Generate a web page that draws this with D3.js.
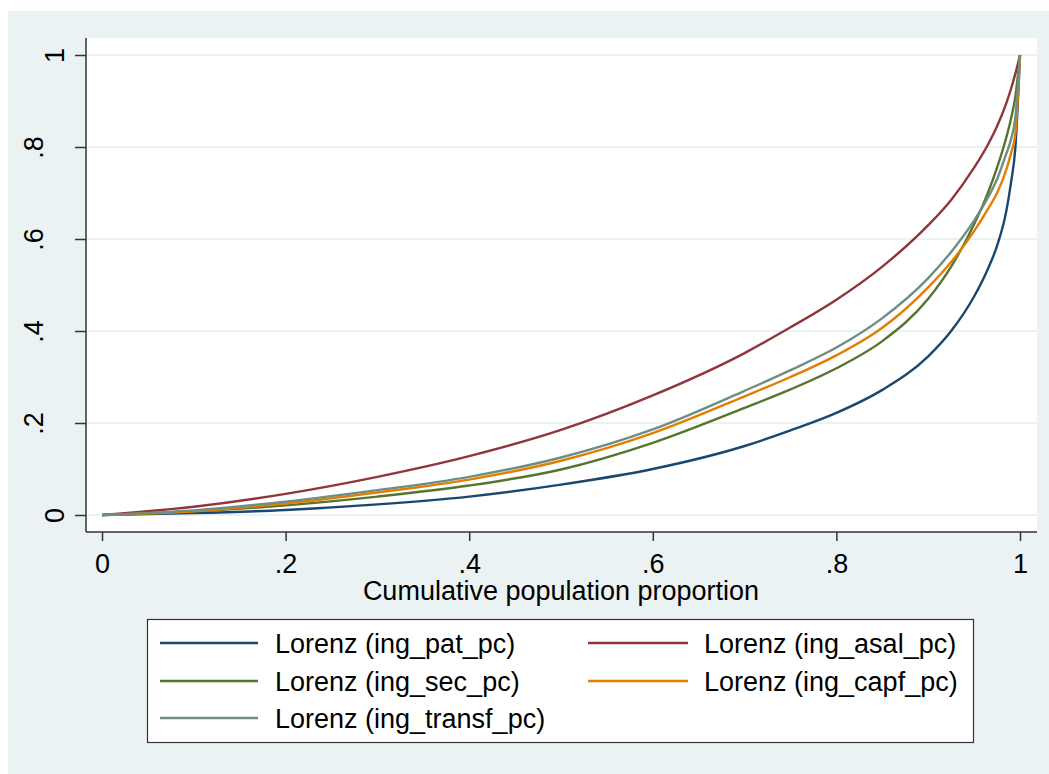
<!DOCTYPE html>
<html>
<head>
<meta charset="utf-8">
<script src="https://cdn.jsdelivr.net/npm/d3@7"></script>
<style>
  html, body { margin: 0; padding: 0; background: #ffffff; }
  svg { display: block; font-family: "Liberation Sans", Arial, sans-serif; }
</style>
</head>
<body>
<svg id="chart" width="1049" height="774"></svg>
<script>
// ---- data ----
const popShare  = [0, 0.1, 0.2, 0.3, 0.4, 0.5, 0.6, 0.7, 0.75, 0.8, 0.85, 0.9, 0.925, 0.95, 0.965, 0.975, 0.985, 0.99, 0.995, 1];
const ingPat    = [0, 0.004, 0.011, 0.023, 0.040, 0.066, 0.100, 0.150, 0.184, 0.222, 0.272, 0.345, 0.400, 0.475, 0.535, 0.585, 0.660, 0.720, 0.800, 1];
const ingAsal   = [0, 0.018, 0.046, 0.083, 0.128, 0.185, 0.260, 0.352, 0.408, 0.468, 0.540, 0.630, 0.685, 0.755, 0.805, 0.845, 0.895, 0.925, 0.960, 1];
const ingSec    = [0, 0.008, 0.021, 0.040, 0.064, 0.099, 0.157, 0.233, 0.273, 0.319, 0.378, 0.470, 0.540, 0.632, 0.700, 0.755, 0.820, 0.860, 0.910, 1];
const ingCapf   = [0, 0.008, 0.025, 0.049, 0.077, 0.118, 0.178, 0.258, 0.300, 0.347, 0.407, 0.495, 0.550, 0.617, 0.665, 0.700, 0.750, 0.785, 0.830, 1];
const ingTransf = [0, 0.010, 0.029, 0.054, 0.083, 0.125, 0.186, 0.270, 0.315, 0.364, 0.428, 0.515, 0.572, 0.640, 0.690, 0.730, 0.785, 0.815, 0.865, 1];

const seriesNames  = ["Lorenz (ing_pat_pc)", "Lorenz (ing_asal_pc)", "Lorenz (ing_sec_pc)", "Lorenz (ing_capf_pc)", "Lorenz (ing_transf_pc)"];
const seriesValues = [ingPat, ingAsal, ingSec, ingCapf, ingTransf];
const seriesColors = ["#1a476f", "#90353b", "#55752f", "#e37e00", "#6e8e84"];
const xTicks = [0, 0.2, 0.4, 0.6, 0.8, 1];
const yTicks = [0, 0.2, 0.4, 0.6, 0.8, 1];
const xTitle = "Cumulative population proportion";

// ---- layout ----
const svg = d3.select("#chart");
const FONT = 27;
const plot = { left: 86, top: 38, right: 1037, bottom: 532 };

const x = d3.scaleLinear().domain([0, 1]).range([102, 1020]);
const y = d3.scaleLinear().domain([0, 1]).range([515, 55]);
const fmt = d => (d === 0 ? "0" : d === 1 ? "1" : d3.format(".1f")(d).replace(/^0/, ""));

// outer background
svg.append("rect").attr("x", 8).attr("y", 11).attr("width", 1049 - 8).attr("height", 774 - 11)
  .attr("fill", "#eaf2f3");
// plot region
svg.append("rect").attr("x", plot.left).attr("y", plot.top)
  .attr("width", plot.right - plot.left).attr("height", plot.bottom - plot.top)
  .attr("fill", "#ffffff");

// gridlines
svg.append("g").selectAll("line").data(yTicks).join("line")
  .attr("x1", plot.left).attr("x2", plot.right)
  .attr("y1", d => y(d)).attr("y2", d => y(d))
  .attr("stroke", "#eaf2f3").attr("stroke-width", 2);

// curves
const line = d3.line().curve(d3.curveMonotoneX);
const curves = svg.append("g").attr("fill", "none");
seriesValues.forEach((vals, i) => {
  curves.append("path")
    .attr("d", line(popShare.map((p, j) => [x(p), y(vals[j])])))
    .attr("stroke", seriesColors[i])
    .attr("stroke-width", 2.4)
    .attr("stroke-linejoin", "round");
});

// y axis
const yAxis = svg.append("g").attr("transform", `translate(${plot.left},0)`)
  .call(d3.axisLeft(y).tickValues(yTicks).tickFormat(fmt).tickSize(11).tickSizeOuter(0));
yAxis.select(".domain").attr("d", `M0,${plot.top}V${plot.bottom}`).attr("stroke", "#333").attr("stroke-width", 1.5);
yAxis.selectAll(".tick line").attr("stroke", "#333").attr("stroke-width", 1.5);
yAxis.selectAll(".tick text")
  .attr("x", null).attr("dy", null).attr("y", null)
  .attr("text-anchor", "middle")
  .attr("transform", d => `translate(${-(fmt(d).length === 1 ? 22 : 43)},0) rotate(-90)`)
  .attr("font-size", FONT).attr("font-family", "Liberation Sans, Arial, sans-serif").attr("fill", "#000");

// x axis
const xAxis = svg.append("g").attr("transform", `translate(0,${plot.bottom})`)
  .call(d3.axisBottom(x).tickValues(xTicks).tickFormat(fmt).tickSize(9).tickSizeOuter(0));
xAxis.select(".domain").attr("d", `M${plot.left},0H${plot.right}`).attr("stroke", "#333").attr("stroke-width", 1.5);
xAxis.selectAll(".tick line").attr("stroke", "#333").attr("stroke-width", 1.5);
xAxis.selectAll(".tick text")
  .attr("y", 41).attr("dy", null)
  .attr("font-size", FONT).attr("font-family", "Liberation Sans, Arial, sans-serif").attr("fill", "#000");

// x title
svg.append("text").attr("x", (x(0) + x(1)) / 2).attr("y", 600)
  .attr("text-anchor", "middle").attr("font-size", FONT).attr("fill", "#000")
  .text(xTitle);

// legend
const lg = svg.append("g");
lg.append("rect").attr("x", 147.5).attr("y", 619.5).attr("width", 826).attr("height", 123)
  .attr("fill", "#ffffff").attr("stroke", "#333").attr("stroke-width", 1.2);
const rowsY = [643, 681, 718];
const colX = [{ l1: 160, l2: 258, t: 275 }, { l1: 588, l2: 688, t: 704 }];
seriesNames.forEach((name, i) => {
  const c = colX[i % 2], r = rowsY[Math.floor(i / 2)];
  lg.append("line").attr("x1", c.l1).attr("x2", c.l2).attr("y1", r).attr("y2", r)
    .attr("stroke", seriesColors[i]).attr("stroke-width", 2.4);
  lg.append("text").attr("x", c.t).attr("y", r + 10).attr("font-size", FONT).attr("fill", "#000")
    .text(name);
});
</script>
</body>
</html>
